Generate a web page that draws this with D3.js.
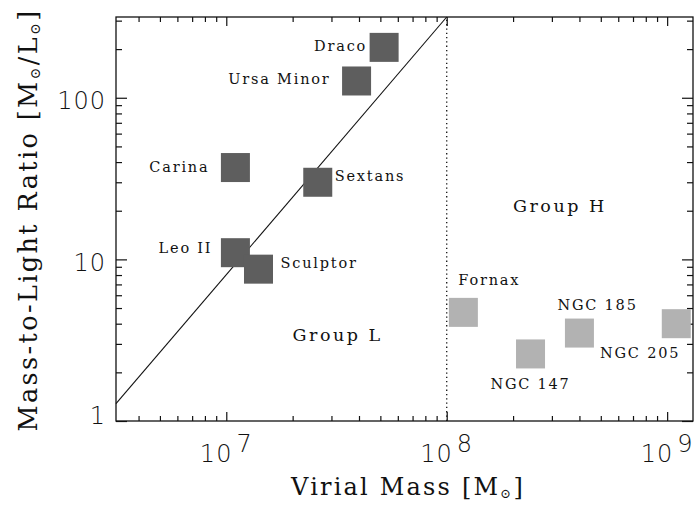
<!DOCTYPE html>
<html>
<head>
<meta charset="utf-8">
<script src="https://cdn.jsdelivr.net/npm/d3@7/dist/d3.min.js"></script>
<style>
  body { margin: 0; background: #fff; }
  text { fill: #111; }
</style>
</head>
<body>
<svg id="chart" width="694" height="505"></svg>
<script>
// galaxy values
const galaxies = ['Draco', 'Ursa Minor', 'Carina', 'Sextans', 'Leo II', 'Sculptor',
  'Fornax', 'NGC 147', 'NGC 185', 'NGC 205'];
const virialMass = [5.2e7, 3.9e7, 1.1e7, 2.6e7, 1.1e7, 1.4e7, 1.19e8, 2.4e8, 4.0e8, 1.1e9];
const massToLight = [205, 127, 37, 30, 11, 8.7, 4.7, 2.6, 3.5, 4.0];
const groups = ['L', 'L', 'L', 'L', 'L', 'L', 'H', 'H', 'H', 'H'];

// the diagonal relation and the group divider
const lineMass = [3.16e6, 1e8];
const lineML = [1.28, 316];
const dividerMass = 1e8;

const groupNames = ['Group L', 'Group H'];
const groupMass = [3.2e7, 3.26e8];
const groupML = [3.13, 19.6];

const xMajor = [1e7, 1e8, 1e9];
const xExp = ['7', '8', '9'];
const yMajor = [1, 10, 100];
const yLabels = ['1', '10', '100'];

// layout
const marginLeft = 116;
const marginTop = 17;
const plotRight = 693;
const plotBottom = 421;
const boxSize = 29;

// label placement relative to the square centre: [dx, dy, anchor]
const labelPlace = {
  'Draco': [-17, 4, 'end'],
  'Ursa Minor': [-26, 3, 'end'],
  'Carina': [-26, 4.5, 'end'],
  'Sextans': [17, -1.5, 'start'],
  'Leo II': [-23, 0, 'end'],
  'Sculptor': [22, -1, 'start'],
  'Fornax': [-5, -27, 'start'],
  'NGC 147': [0, 35, 'middle'],
  'NGC 185': [-22, -23, 'start'],
  'NGC 205': [4, 34, 'end']
};

const svg = d3.select('#chart');

const x = d3.scaleLog()
  .domain([3.16e6, 1.31e9])
  .range([marginLeft, plotRight]);

const y = d3.scaleLog()
  .domain([1, 316])
  .range([plotBottom, marginTop]);

const minorOf = (scale) => {
  const [a, b] = scale.domain();
  const out = [];
  for (let e = Math.floor(Math.log10(a)); e <= Math.ceil(Math.log10(b)); e++) {
    for (let m = 2; m <= 9; m++) {
      const v = m * Math.pow(10, e);
      if (v >= a && v <= b) out.push(v);
    }
  }
  return out;
};

// ticks on all four sides, pointing inward
const addTicks = (axisFn, scale, values, size, transform) => {
  const g = svg.append('g')
    .attr('transform', transform)
    .call(axisFn(scale).tickValues(values).tickSizeInner(-size).tickSizeOuter(0).tickFormat(''));
  g.select('.domain').remove();
  g.selectAll('line').attr('stroke', '#111').attr('stroke-width', 1.2);
};

addTicks(d3.axisBottom, x, xMajor, 9, `translate(0,${plotBottom})`);
addTicks(d3.axisBottom, x, minorOf(x), 5, `translate(0,${plotBottom})`);
addTicks(d3.axisTop, x, xMajor, 9, `translate(0,${marginTop})`);
addTicks(d3.axisTop, x, minorOf(x), 5, `translate(0,${marginTop})`);
addTicks(d3.axisLeft, y, yMajor, 11, `translate(${marginLeft},0)`);
addTicks(d3.axisLeft, y, minorOf(y), 6, `translate(${marginLeft},0)`);
addTicks(d3.axisRight, y, yMajor, 11, `translate(${plotRight},0)`);
addTicks(d3.axisRight, y, minorOf(y), 6, `translate(${plotRight},0)`);

// frame
svg.append('rect')
  .attr('x', marginLeft)
  .attr('y', marginTop)
  .attr('width', plotRight - marginLeft)
  .attr('height', plotBottom - marginTop)
  .attr('fill', 'none')
  .attr('stroke', '#111')
  .attr('stroke-width', 1.3);

// tick labels
const tickFont = "'DejaVu Sans', sans-serif";

svg.append('g').selectAll('text')
  .data(yMajor)
  .enter()
  .append('text')
  .attr('x', 106)
  .attr('y', (d) => Math.min(y(d) + 11.5, plotBottom + 3))
  .attr('text-anchor', 'end')
  .attr('font-family', tickFont)
  .attr('font-weight', 200)
  .attr('font-size', 24)
  .attr('letter-spacing', 1)
  .text((d, i) => yLabels[i]);

const xl = svg.append('g').selectAll('text')
  .data(xMajor)
  .enter()
  .append('text')
  .attr('x', (d) => x(d))
  .attr('y', 462)
  .attr('text-anchor', 'middle')
  .attr('font-family', tickFont)
  .attr('font-weight', 200)
  .attr('font-size', 24)
  .attr('letter-spacing', 1);
xl.append('tspan').text('10');
xl.append('tspan').attr('dx', 4).attr('dy', -10).text((d, i) => xExp[i]);

// divider and relation
svg.append('line')
  .attr('x1', x(dividerMass))
  .attr('x2', x(dividerMass))
  .attr('y1', plotBottom)
  .attr('y2', marginTop)
  .attr('stroke', '#111')
  .attr('stroke-width', 1.3)
  .attr('stroke-dasharray', '1.3 3');

svg.append('line')
  .attr('x1', x(lineMass[0]))
  .attr('y1', y(lineML[0]))
  .attr('x2', x(lineMass[1]))
  .attr('y2', y(lineML[1]))
  .attr('stroke', '#111')
  .attr('stroke-width', 1.1);

// squares
const rows = galaxies.map((name, i) => ({
  name, mass: virialMass[i], ml: massToLight[i], group: groups[i]
}));

svg.append('g').selectAll('rect')
  .data(rows)
  .enter()
  .append('rect')
  .attr('x', (d) => x(d.mass) - boxSize / 2)
  .attr('y', (d) => y(d.ml) - boxSize / 2)
  .attr('width', boxSize)
  .attr('height', boxSize)
  .attr('fill', (d) => d.group === 'L' ? '#5e5e5e' : '#b2b2b2');

const labelFont = "'DejaVu Serif', serif";

svg.append('g').selectAll('text')
  .data(rows)
  .enter()
  .append('text')
  .attr('x', (d) => x(d.mass) + labelPlace[d.name][0])
  .attr('y', (d) => y(d.ml) + labelPlace[d.name][1])
  .attr('text-anchor', (d) => labelPlace[d.name][2])
  .attr('font-family', labelFont)
  .attr('font-size', 14.5)
  .attr('letter-spacing', 1.8)
  .text((d) => d.name);

svg.append('g').selectAll('text')
  .data(groupNames)
  .enter()
  .append('text')
  .attr('x', (d, i) => x(groupMass[i]))
  .attr('y', (d, i) => y(groupML[i]))
  .attr('text-anchor', 'middle')
  .attr('font-family', labelFont)
  .attr('font-size', 17.5)
  .attr('letter-spacing', 2.5)
  .text((d) => d);

// axis titles
const xTitle = svg.append('text')
  .attr('x', 408)
  .attr('y', 495)
  .attr('text-anchor', 'middle')
  .attr('font-family', labelFont)
  .attr('font-size', 24)
  .attr('letter-spacing', 2.2);
xTitle.append('tspan').text('Virial Mass [M');
xTitle.append('tspan').attr('font-size', 13).attr('dy', 3).text('⊙');
xTitle.append('tspan').attr('dy', -3).text(']');

const yTitle = svg.append('text')
  .attr('transform', `translate(37, 220) rotate(-90)`)
  .attr('text-anchor', 'middle')
  .attr('font-family', labelFont)
  .attr('font-size', 25.5)
  .attr('letter-spacing', 2.4);
yTitle.append('tspan').text('Mass-to-Light Ratio [M');
yTitle.append('tspan').attr('font-size', 14).attr('dy', 3).text('⊙');
yTitle.append('tspan').attr('dy', -3).text('/L');
yTitle.append('tspan').attr('font-size', 14).attr('dy', 3).text('⊙');
yTitle.append('tspan').attr('dy', -3).text(']');
</script>
</body>
</html>
